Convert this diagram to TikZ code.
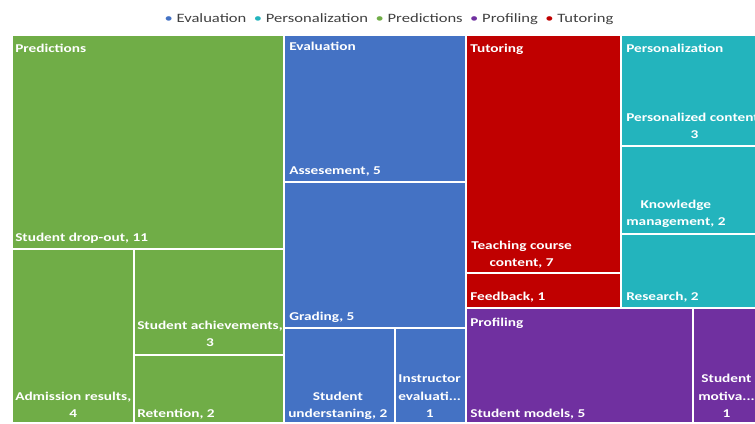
\documentclass[tikz,border=0pt]{standalone}
\usepackage{fontspec}
\setmainfont{Carlito}
\definecolor{cgreen}{RGB}{112,173,71}
\definecolor{cblue}{RGB}{68,114,196}
\definecolor{cred}{RGB}{192,0,0}
\definecolor{cteal}{RGB}{35,180,189}
\definecolor{cpurple}{RGB}{112,48,160}
\definecolor{ctext}{RGB}{64,64,64}
\begin{document}
\begin{tikzpicture}[x=1bp,y=-1bp,
  cell/.style={draw=white, line width=1.6bp},
  lbl/.style={anchor=south west, inner sep=0pt, text depth=0pt, align=center, text=white,
    font=\fontsize{12}{17.5}\selectfont\bfseries, xscale=1.28},
  hdr/.style={anchor=base west, inner sep=0pt, text=white,
    font=\fontsize{12}{16}\selectfont\bfseries, xscale=1.28},
  leg/.style={anchor=base, inner sep=0pt, text=ctext,
    font=\fontsize{12.8}{15}\selectfont, xscale=1.3}]
\useasboundingbox (0,0) rectangle (755,423);
\clip (0,0) rectangle (755,423);
% legend
\node[leg] (legend) at (389,22) {\textcolor{cblue}{\textbullet}~Evaluation\ \ \textcolor{cteal}{\textbullet}~Personalization\ \ \textcolor{cgreen}{\textbullet}~Predictions\ \ \textcolor{cpurple}{\textbullet}~Profiling\ \ \textcolor{cred}{\textbullet}~Tutoring};
% Predictions
\filldraw[cell, fill=cgreen] (12,35) rectangle (284,249);
\filldraw[cell, fill=cgreen] (12,249) rectangle (134,423);
\filldraw[cell, fill=cgreen] (134,249) rectangle (284,355);
\filldraw[cell, fill=cgreen] (134,355) rectangle (284,423);
% Evaluation
\filldraw[cell, fill=cblue] (284,35) rectangle (466,182);
\filldraw[cell, fill=cblue] (284,182) rectangle (466,328);
\filldraw[cell, fill=cblue] (284,328) rectangle (395,423);
\filldraw[cell, fill=cblue] (395,328) rectangle (466,423);
% Tutoring
\filldraw[cell, fill=cred] (466,35) rectangle (621,273);
\filldraw[cell, fill=cred] (466,273) rectangle (621,308);
% Personalization
\filldraw[cell, fill=cteal] (621,35) rectangle (765,146);
\filldraw[cell, fill=cteal] (621,146) rectangle (765,234);
\filldraw[cell, fill=cteal] (621,234) rectangle (765,308);
% Profiling
\filldraw[cell, fill=cpurple] (466,308) rectangle (693,423);
\filldraw[cell, fill=cpurple] (693,308) rectangle (765,423);
\fill[white] (0,422) rectangle (755,430);
% group headers
\node[hdr] (hpred) at (15,52) {Predictions};
\node[hdr] (heval) at (289,50) {Evaluation};
\node[hdr] (htut) at (470,52) {Tutoring};
\node[hdr] (hpers) at (626,52) {Personalization};
\node[hdr] (hprof) at (470,326) {Profiling};
% leaf labels
\node[lbl] (dropout) at (15,242) {Student drop-out, 11};
\node[lbl] (admission) at (15,418) {Admission results,\\4};
\node[lbl] (achieve) at (137,347) {Student achievements,\\3};
\node[lbl] (retention) at (137,418) {Retention, 2};
\node[lbl] (assess) at (289,175) {Assesement, 5};
\node[lbl] (grading) at (289,321) {Grading, 5};
\node[lbl] (underst) at (288,418) {Student\\understaning, 2};
\node[lbl] (instr) at (398,418) {Instructor\\evaluati...\\1};
\node[lbl] (teach) at (471,267) {Teaching course\\content, 7};
\node[lbl] (feedback) at (470,301) {Feedback, 1};
\node[lbl] (perscont) at (626,139) {Personalized content,\\3};
\node[lbl] (knowl) at (626,226) {Knowledge\\management, 2};
\node[lbl] (research) at (626,301) {Research, 2};
\node[lbl] (models) at (470,418) {Student models, 5};
\node[lbl] (motiva) at (698,418) {Student\\motiva...\\1};
\end{tikzpicture}
\end{document}
